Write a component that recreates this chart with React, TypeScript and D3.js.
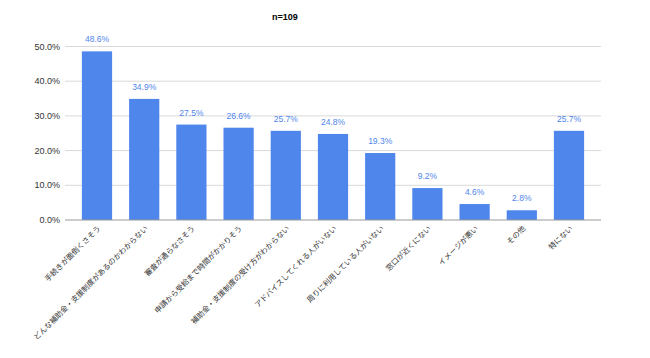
import React from "react";
import * as d3 from "d3";

const categories = [
  "手続きが面倒くさそう",
  "どんな補助金・支援制度があるのかわからない",
  "審査が通らなさそう",
  "申請から受給まで時間がかかりそう",
  "補助金・支援制度の受け方がわからない",
  "アドバイスしてくれる人がいない",
  "周りに利用している人がいない",
  "窓口が近くにない",
  "イメージが悪い",
  "その他",
  "特にない",
];
const values = [48.6, 34.9, 27.5, 26.6, 25.7, 24.8, 19.3, 9.2, 4.6, 2.8, 25.7];
const yTicks = [0, 10, 20, 30, 40, 50];
const title = "n=109";

const W = 650;
const H = 358;
const FONT = "'Liberation Sans', Arial, 'Noto Sans CJK JP', sans-serif";

export default function App() {
  const gridLeft = 65;
  const gridRight = 601;
  const x = d3
    .scaleBand<string>()
    .domain(categories)
    .range([73.4, 592.6])
    .paddingInner(0.36)
    .paddingOuter(0.18);
  const y = d3.scaleLinear().domain([0, 50]).range([220, 46.5]);

  return (
    <svg
      width={W}
      height={H}
      style={{ position: "absolute", left: 0, top: 0, background: "#fff" }}
      fontFamily={FONT}
    >
      <rect x={0} y={0} width={W} height={H} fill="#fff" />
      <text x={285} y={20} textAnchor="middle" fontSize={9} fontWeight="bold" fill="#000">
        {title}
      </text>
      {yTicks.map((t) => (
        <g key={t}>
          {t !== 0 && (
            <line x1={gridLeft} x2={gridRight} y1={y(t)} y2={y(t)} stroke="#d9d9d9" strokeWidth={1} />
          )}
          <text x={60} y={y(t)} dy="0.35em" textAnchor="end" fontSize={9} fill="#333">
            {t.toFixed(1)}%
          </text>
        </g>
      ))}
      {categories.map((c, i) => (
        <g key={c}>
          <rect
            x={x(c)!}
            y={y(values[i])}
            width={x.bandwidth()}
            height={y(0) - y(values[i])}
            fill="#4f86ec"
          />
          <text
            x={x(c)! + x.bandwidth() / 2}
            y={y(values[i]) - 9}
            textAnchor="middle"
            fontSize={8.5}
            fill="#4f86ec"
          >
            {values[i].toFixed(1)}%
          </text>
          <text
            transform={`translate(${x(c)! + x.bandwidth() / 2 + 4},${229}) rotate(-45)`}
            textAnchor="end"
            fontSize={7.5}
            fill="#333"
          >
            {c}
          </text>
        </g>
      ))}
      <line x1={gridLeft} x2={gridRight} y1={y(0)} y2={y(0)} stroke="#999" strokeWidth={1} />
    </svg>
  );
}
